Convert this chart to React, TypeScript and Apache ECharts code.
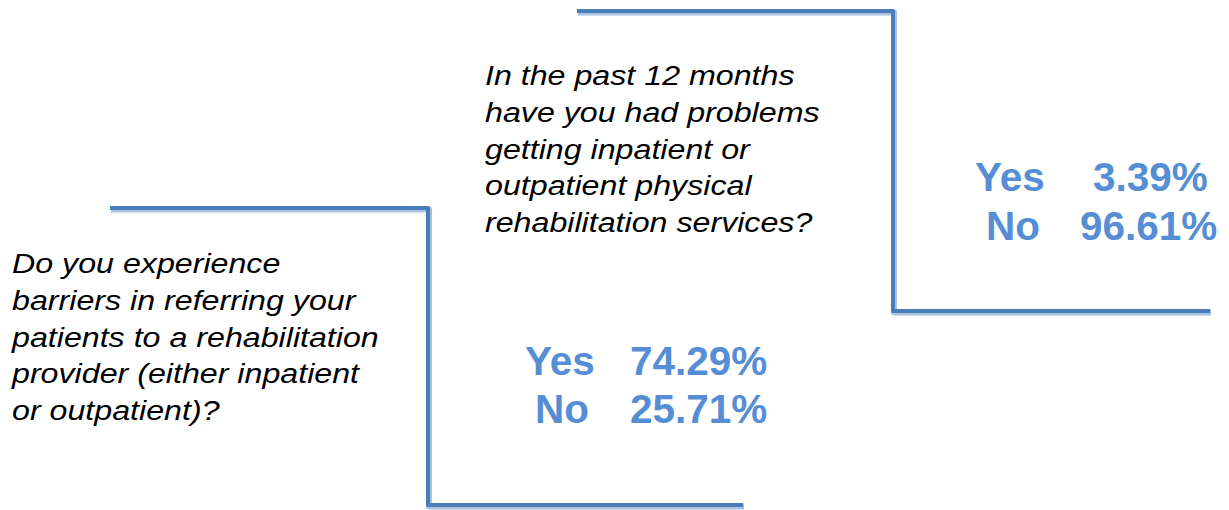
import React, { useEffect, useRef } from "react";
import * as echarts from "echarts";

const question1Lines = [
  "In the past 12 months",
  "have you had problems",
  "getting inpatient or",
  "outpatient physical",
  "rehabilitation services?",
];
const question2Lines = [
  "Do you experience",
  "barriers in referring your",
  "patients to a rehabilitation",
  "provider (either inpatient",
  "or outpatient)?",
];
const answerLabels = ["Yes", "No"];
const answers1 = ["3.39%", "96.61%"];
const answers2 = ["74.29%", "25.71%"];

const LINE_DARK = "#4a7ebb";
const LINE_LIGHT = "#a9c2e2";
const TEXT_BLUE = "#558ed5";

function bracket(points: number[][]) {
  return [
    {
      type: "polyline",
      shape: { points: points.map((p) => [p[0] + 1, p[1] + 1.5]) },
      style: { stroke: LINE_LIGHT, lineWidth: 6, fill: null, lineJoin: "round" },
      silent: true,
    },
    {
      type: "polyline",
      shape: { points },
      style: { stroke: LINE_DARK, lineWidth: 4, fill: null, lineJoin: "round" },
      silent: true,
    },
  ];
}

function questionText(lines: string[], x: number, firstBaseline: number) {
  const fs = 28;
  const lh = 36.8;
  return lines.map((t, i) => ({
    type: "text",
    x,
    y: firstBaseline + i * lh - fs * 0.3465,
    scaleX: 1.15,
    style: {
      x: 0,
      y: 0,
      text: t,
      fill: "#000000",
      font: `italic ${fs}px "Liberation Sans", Arial, sans-serif`,
      textAlign: "left",
      textVerticalAlign: "middle",
    },
    silent: true,
  }));
}

function answerText(
  labels: string[],
  values: string[],
  labelX: number[],
  valueX: number[],
  baselines: number[]
) {
  const fs = 40.5;
  const out: any[] = [];
  labels.forEach((l, i) => {
    out.push({
      type: "text",
      x: labelX[i],
      y: baselines[i] - fs * 0.3465,
      style: {
        text: l,
        fill: TEXT_BLUE,
        font: `bold ${fs}px "Liberation Sans", Arial, sans-serif`,
        textAlign: "left",
        textVerticalAlign: "middle",
      },
      silent: true,
    });
    out.push({
      type: "text",
      x: valueX[i],
      y: baselines[i] - fs * 0.3465,
      style: {
        text: values[i],
        fill: TEXT_BLUE,
        font: `bold ${fs}px "Liberation Sans", Arial, sans-serif`,
        textAlign: "left",
        textVerticalAlign: "middle",
      },
      silent: true,
    });
  });
  return out;
}

export default function App() {
  const ref = useRef<HTMLDivElement>(null);
  useEffect(() => {
    if (!ref.current) return;
    const chart = echarts.init(ref.current, undefined, { renderer: "svg" });
    const elements: any[] = [
      ...bracket([
        [577, 11],
        [893, 11],
        [893, 311],
        [1210, 311],
      ]),
      ...bracket([
        [110, 208],
        [428, 208],
        [428, 505],
        [743, 505],
      ]),
      ...questionText(question1Lines, 485, 85),
      ...questionText(question2Lines, 12, 273),
      ...answerText(answerLabels, answers1, [975, 986], [1093, 1080], [191, 240]),
      ...answerText(answerLabels, answers2, [525, 535], [630, 630], [375, 423]),
    ];
    chart.setOption({
      animation: false,
      backgroundColor: "#ffffff",
      graphic: { elements },
    });
    return () => chart.dispose();
  }, []);
  return (
    <div
      ref={ref}
      style={{ position: "absolute", left: 0, top: 0, width: 1229, height: 510 }}
    />
  );
}
